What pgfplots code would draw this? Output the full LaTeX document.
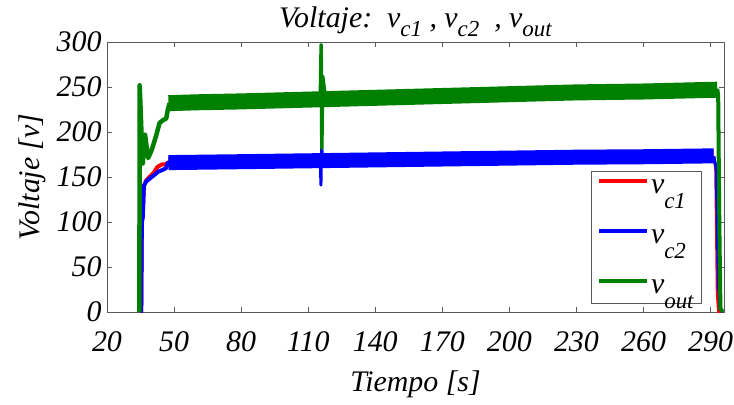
\documentclass[border=0pt]{standalone}
\usepackage{pgfplots}
\pgfplotsset{compat=1.18}
\usepackage{fontspec}
\setmainfont{Liberation Serif}
\definecolor{mred}{rgb}{1,0,0}
\definecolor{mblue}{rgb}{0,0,1}
\definecolor{mgreen}{rgb}{0,0.5,0}
\newcommand{\bigf}{\fontsize{30}{34}\selectfont\itshape}
\newcommand{\vsub}[2]{v\raisebox{#2}{\fontsize{23}{25}\selectfont\itshape #1}}
\begin{document}
\begin{tikzpicture}
\useasboundingbox (-107bp,-93bp) rectangle (627bp,312bp);
\begin{axis}[
  at={(0,0)}, anchor=south west,
  scale only axis, width=617bp, height=270bp,
  xmin=20, xmax=296, ymin=0, ymax=300,
  xtick={20,50,...,290}, ytick={0,50,...,300},
  tick align=inside, major tick length=5bp,
  axis line style={black!65, line width=0.8bp},
  tick style={black!65, line width=0.6bp},
  ticklabel style={font=\bigf},
  xticklabel={\pgfmathtruncatemacro\tk{\tick}\itshape\tk},
  yticklabel={\pgfmathtruncatemacro\tk{\tick}\itshape\tk},
  xticklabel style={yshift=-16bp},
  yticklabel style={xshift=-2bp},
  xlabel={Tiempo [s]}, ylabel={Voltaje [v]},
  label style={font=\bigf},
  xlabel style={yshift=-12bp},
  ylabel style={yshift=4bp},
  title={Voltaje:\ \ \vsub{c1}{-9bp} , \vsub{c2}{-9bp}\ \ , \vsub{out}{-9bp}},
  title style={font=\bigf, yshift=-4bp},
  legend style={at={(0.964,0.033)}, anchor=south east, draw=black!65, fill=white,
    font=\bigf, row sep=31bp, inner xsep=6bp, inner ysep=6bp, cells={anchor=west}},
  legend image code/.code={\draw[#1, line width=4bp] (0bp,6bp) -- (48bp,6bp);},
  line join=round,
]
% ---- v_c1 (red) ----
\addplot[mred, line width=4bp] coordinates {
 (35.0,0) (35.3,0) (35.6,100) (36.0,108) (36.5,140) (37.5,146) (39,150) (41,155) (42.5,161) (44.5,164) (46.2,164) (47.2,166) (48,166)
};
\addlegendentry{\vsub{c1}{-15bp}}
\addplot[mred, line width=12bp, forget plot] coordinates {
 (47.5,166) (80,167) (110,168) (140,169) (170,170) (200,171) (230,172) (260,172.5) (291.4,173.5)
};
\addplot[mred, line width=3bp, forget plot] coordinates {
 (291.4,173) (292.3,160) (293.0,20) (293.6,0) (295.0,0)
};
% ---- v_c2 (blue) ----
\addplot[mblue, line width=4bp] coordinates {
 (35.0,0) (35.3,0) (35.6,100) (36.0,105) (36.5,140) (37.5,145) (39,148) (41,152) (43,156) (45,158) (46.5,160) (47.2,166) (48,166)
};
\addlegendentry{\vsub{c2}{-15bp}}
\addplot[mblue, line width=15bp, forget plot] coordinates {
 (47.5,166) (80,167) (110,168) (140,169) (170,170) (200,171) (230,172) (260,172.5) (291.4,173.5)
};
\addplot[mblue, line width=3bp, forget plot] coordinates {
 (115.4,168) (115.7,141) (116.0,183) (116.4,174) (117.2,169)
};
\addplot[mblue, line width=3bp, forget plot] coordinates {
 (291.4,173) (292.5,160) (293.5,30) (294.3,3) (295.5,0)
};
% ---- v_out (green) ----
\addplot[mgreen, line width=4.5bp] coordinates {
 (34.5,0) (34.6,252) (34.9,235) (35.4,200) (36.0,165) (37.0,197) (37.6,186) (38.4,171) (40,180) (42,196) (43.5,210) (45,213) (46.5,215) (47.3,226) (48,232)
};
\addlegendentry{\vsub{out}{-15bp}}
\addplot[mgreen, line width=16bp, forget plot] coordinates {
 (47.5,232) (60,233) (80,234) (110,236) (140,238) (170,240) (200,242) (230,244) (260,245) (293.0,247)
};
\addplot[mgreen, line width=3.5bp, forget plot] coordinates {
 (115.4,237) (115.8,297) (116.1,182) (116.5,262) (117.3,246) (118,239)
};
\addplot[mgreen, line width=4bp, forget plot] coordinates {
 (293.0,248) (293.4,240) (293.9,100) (294.4,4) (295.4,0)
};
\end{axis}
\end{tikzpicture}
\end{document}
